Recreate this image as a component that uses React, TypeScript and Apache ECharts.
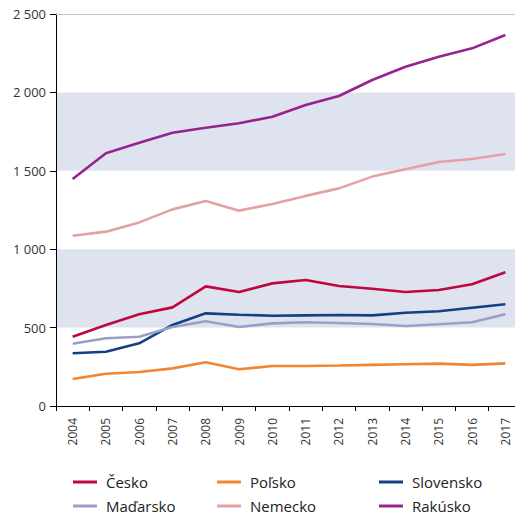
import React, { useEffect, useRef } from "react";
import * as echarts from "echarts";

const years = ["2004","2005","2006","2007","2008","2009","2010","2011","2012","2013","2014","2015","2016","2017"];
const cesko = [442, 517, 585, 629, 763, 727, 782, 804, 765, 748, 727, 740, 776, 853];
const polsko = [172, 206, 217, 240, 279, 234, 255, 255, 258, 262, 266, 270, 262, 272];
const slovensko = [336, 346, 400, 517, 591, 582, 576, 578, 580, 578, 595, 604, 627, 649];
const madarsko = [397, 432, 442, 504, 540, 504, 527, 534, 529, 523, 510, 521, 534, 585];
const nemecko = [1086, 1112, 1171, 1254, 1307, 1246, 1288, 1340, 1388, 1463, 1510, 1556, 1575, 1607];
const rakusko = [1448, 1612, 1679, 1743, 1775, 1803, 1845, 1920, 1977, 2079, 2164, 2228, 2281, 2366];

const seriesNames = ["Česko", "Poľsko", "Slovensko", "Maďarsko", "Nemecko", "Rakúsko"];
const seriesData = [cesko, polsko, slovensko, madarsko, nemecko, rakusko];
const seriesColors = ["#c0063f", "#f28532", "#133f83", "#9a9fc7", "#e4a1a3", "#972390"];

const FONT = "'Open Sans', 'Noto Sans', sans-serif";

export default function App() {
  const ref = useRef<HTMLDivElement>(null);
  useEffect(() => {
    if (!ref.current) return;
    const chart = echarts.init(ref.current, undefined, { renderer: "svg" });
    const legendCommon = {
      orient: "vertical",
      top: 474,
      height: 60,
      padding: 0,
      icon: "rect",
      itemWidth: 24,
      itemHeight: 3,
      itemGap: 8,
      textStyle: { fontSize: 15, lineHeight: 16, color: "#222", fontFamily: FONT, padding: [0, 0, 0, 4] },
    };
    chart.setOption({
      animation: false,
      grid: { left: 56, right: 8, top: 14, bottom: 110 },
      legend: [
        { ...legendCommon, left: 73, data: ["Česko", "Maďarsko"] },
        { ...legendCommon, left: 217, data: ["Poľsko", "Nemecko"] },
        { ...legendCommon, left: 379, data: ["Slovensko", "Rakúsko"] },
      ],
      xAxis: {
        type: "category",
        data: years,
        boundaryGap: true,
        axisLine: { lineStyle: { color: "#000", width: 1 } },
        axisTick: { show: true, length: 5, lineStyle: { color: "#000" } },
        axisLabel: { rotate: 90, fontSize: 12, color: "#333", fontFamily: FONT, margin: 12, interval: 0 },
      },
      yAxis: {
        type: "value",
        min: 0,
        max: 2500,
        interval: 500,
        axisLine: { show: true, lineStyle: { color: "#000", width: 1 } },
        axisTick: { show: true, length: 6, lineStyle: { color: "#000" } },
        axisLabel: {
          fontSize: 13,
          color: "#333",
          fontFamily: FONT,
          margin: 10,
          formatter: (v: number) => String(v).replace(/\B(?=(\d{3})+(?!\d))/g, " "),
        },
        splitLine: { show: false },
        splitArea: { show: true, areaStyle: { color: ["rgba(0,0,0,0)", "#dee3ef"] } },
      },
      series: seriesNames.map((name, i) => ({
        name,
        type: "line",
        data: seriesData[i],
        symbol: "none",
        lineStyle: { width: 2.6, color: seriesColors[i] },
        itemStyle: { color: seriesColors[i] },
        z: 3,
        ...(i === 0
          ? {
              markLine: {
                silent: true,
                symbol: ["none", "none"],
                label: { show: false },
                lineStyle: { color: "#c8c8c8", type: "solid", width: 1.2 },
                data: [{ yAxis: 2500 }],
              },
            }
          : {}),
      })),
    });
    return () => chart.dispose();
  }, []);
  return (
    <div style={{ position: "fixed", left: 0, top: 0, width: 515, height: 516, overflow: "hidden", background: "#fff" }}>
      <div ref={ref} style={{ width: 530, height: 516 }} />
    </div>
  );
}
